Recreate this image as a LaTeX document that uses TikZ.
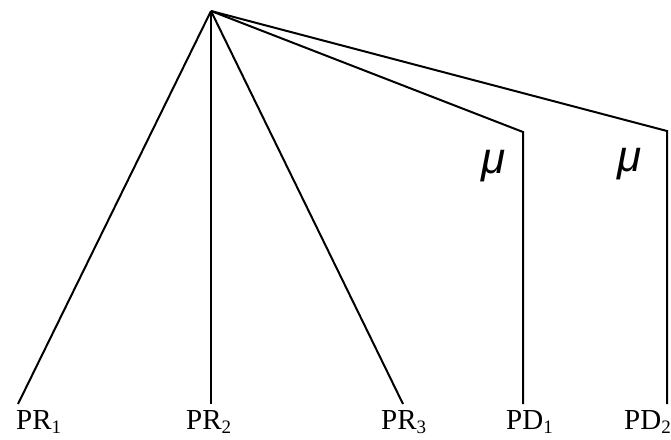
\documentclass[tikz,border=0pt]{standalone}
\usepackage{fontspec}
\setmainfont{Liberation Serif}
\newfontfamily\mufont{Liberation Sans}
\newcommand{\labtxt}[2]{#1\raisebox{-0.16em}{\fontsize{19}{19}\selectfont #2}}
\begin{document}
\begin{tikzpicture}[x=1pt,y=-1pt,
  branch/.style={line width=2pt,line join=miter},
  leaflabel/.style={anchor=base west,inner sep=0pt,font=\fontsize{29}{29}\selectfont},
  rate/.style={inner sep=0pt,font=\mufont\itshape\fontsize{44}{44}\selectfont}]
\useasboundingbox (0,0) rectangle (671,439);
\coordinate (A) at (211,11);
\coordinate (c1) at (523,132);
\coordinate (c2) at (667,131);
\coordinate (e1) at (18,404);
\coordinate (e2) at (211,404);
\coordinate (e3) at (403,404);
\coordinate (e4) at (523,404);
\coordinate (e5) at (667,404);
\draw[branch] (A) -- (e1);
\draw[branch] (A) -- (e2);
\draw[branch] (A) -- (e3);
\draw[branch] (A) -- (c1) -- (e4);
\draw[branch] (A) -- (c2) -- (e5);
\node[rate] (m1) at (494,166) {μ};
\node[rate] (m2) at (630,164) {μ};
\node[leaflabel] (l1) at (16,429) {\labtxt{PR}{1}};
\node[leaflabel] (l2) at (186,429) {\labtxt{PR}{2}};
\node[leaflabel] (l3) at (381,429) {\labtxt{PR}{3}};
\node[leaflabel] (l4) at (506,429) {\labtxt{PD}{1}};
\node[leaflabel] (l5) at (624,429) {\labtxt{PD}{2}};
\end{tikzpicture}
\end{document}
